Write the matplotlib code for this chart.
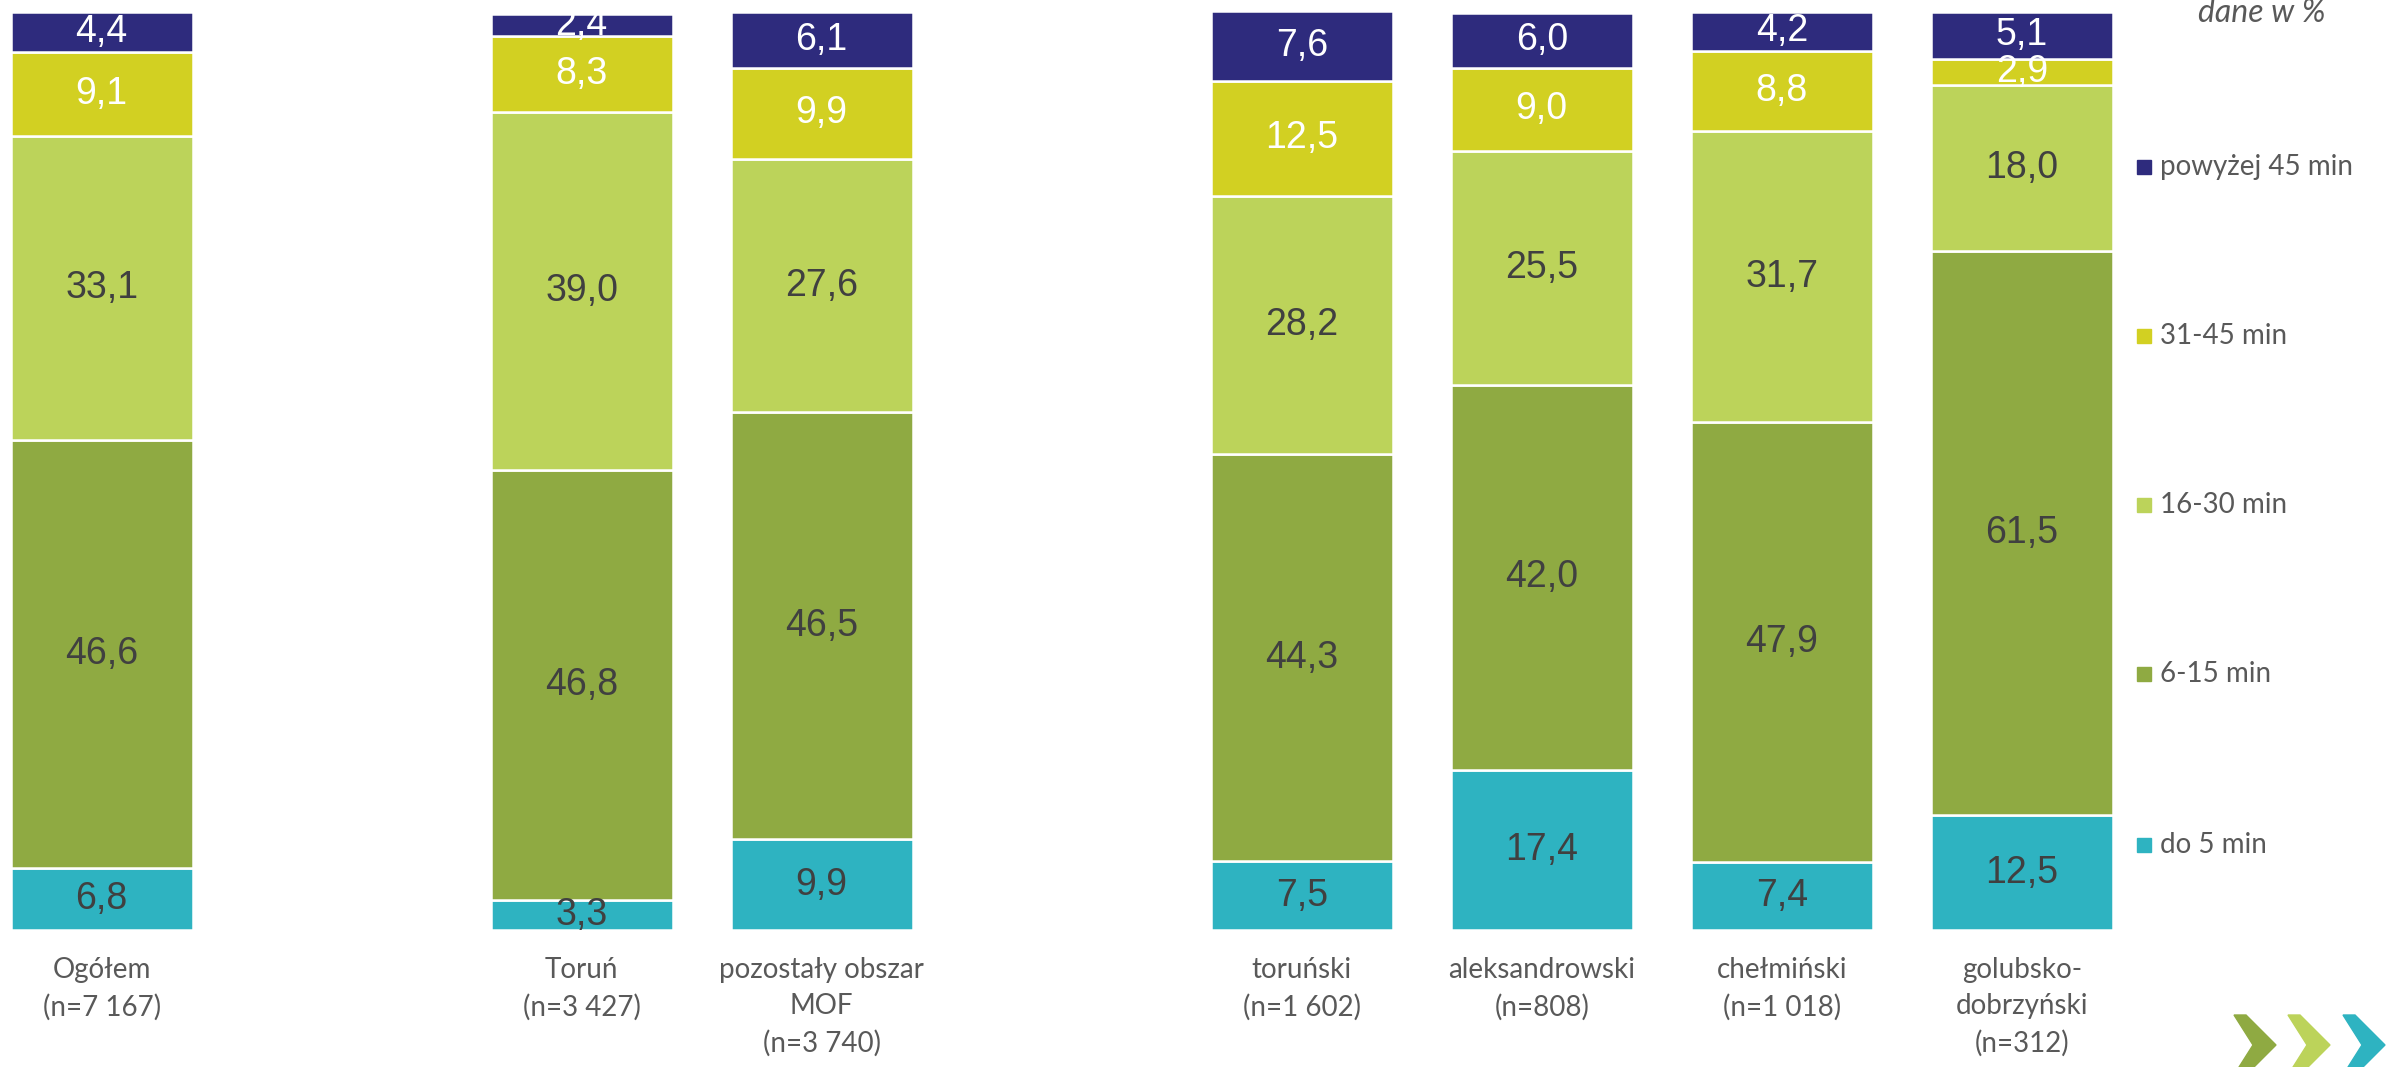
import matplotlib
matplotlib.use("Agg")
import matplotlib.pyplot as plt
import matplotlib.transforms as mtransforms
from matplotlib.patches import Rectangle, Polygon
import numpy as np

# --- data ---
CATEGORIES = [
    "Ogółem\n(n=7 167)",
    "Toruń\n(n=3 427)",
    "pozostały obszar\nMOF\n(n=3 740)",
    "toruński\n(n=1 602)",
    "aleksandrowski\n(n=808)",
    "chełmiński\n(n=1 018)",
    "golubsko-\ndobrzyński\n(n=312)",
]
SERIES = ["do 5 min", "6-15 min", "16-30 min", "31-45 min", "powyżej 45 min"]
DO_5 = [6.8, 3.3, 9.9, 7.5, 17.4, 7.4, 12.5]
MIN_6_15 = [46.6, 46.8, 46.5, 44.3, 42.0, 47.9, 61.5]
MIN_16_30 = [33.1, 39.0, 27.6, 28.2, 25.5, 31.7, 18.0]
MIN_31_45 = [9.1, 8.3, 9.9, 12.5, 9.0, 8.8, 2.9]
OVER_45 = [4.4, 2.4, 6.1, 7.6, 6.0, 4.2, 5.1]

COLORS = ["#2EB3C1", "#8FAA42", "#BCD35A", "#D2D022", "#2E2B7D"]
LABEL_COLORS = ["#404040", "#404040", "#404040", "#FFFFFF", "#FFFFFF"]
POSITIONS = [0, 2, 3, 5, 6, 7, 8]   # empty slots separate the groups
BAR_WIDTH = 0.76
TEXT_GRAY = "#595959"
LABEL_FONT = ["Lato", "DejaVu Sans"]

W, H = 2386, 1067
fig = plt.figure(figsize=(W / 100, H / 100), dpi=100)
ax = fig.add_axes([10.5 / W, 1 - 930 / H, (2113 - 10.5) / W, (930 - 12) / H])

values = [DO_5, MIN_6_15, MIN_16_30, MIN_31_45, OVER_45]
bottom = np.zeros(len(CATEGORIES))
for vals, color, tcol in zip(values, COLORS, LABEL_COLORS):
    vals = np.array(vals)
    ax.bar(POSITIONS, vals, BAR_WIDTH, bottom=bottom, color=color,
           edgecolor="white", linewidth=1.8)
    for x, b, v in zip(POSITIONS, bottom, vals):
        ax.text(x, b + v / 2, f"{v:.1f}".replace(".", ","), ha="center",
                va="center", fontsize=27, color=tcol,
                family=["Liberation Sans", "DejaVu Sans"])
    bottom += vals

ax.set_xlim(-BAR_WIDTH / 2, POSITIONS[-1] + BAR_WIDTH / 2)
ax.set_ylim(0, 100)
ax.axis("off")

# category labels under the bars
trans = mtransforms.blended_transform_factory(ax.transData, ax.transAxes)
for x, lab in zip(POSITIONS, CATEGORIES):
    ax.text(x, -0.029, lab, transform=trans, ha="center", va="top",
            fontsize=20, color=TEXT_GRAY, family=LABEL_FONT,
            linespacing=1.5)

# legend (top to bottom: longest time first)
legend_y = [167, 336, 505, 674, 845]
for name, color, y in zip(SERIES[::-1], COLORS[::-1], legend_y):
    fig.patches.append(Rectangle((2137 / W, 1 - (y + 7) / H), 14 / W, 14 / H,
                                 transform=fig.transFigure, color=color))
    fig.text(2160 / W, 1 - y / H, name, ha="left", va="center", fontsize=20,
             color=TEXT_GRAY, family=LABEL_FONT)

# unit note, partly cut at the top edge as in the source
fig.text(2262 / W, 1 - 22 / H, "dane w %", ha="center", va="baseline",
         fontsize=23, style="italic", color=TEXT_GRAY, family=LABEL_FONT)

# decorative chevrons in the corner
for x0, color in zip([2234, 2288, 2343], ["#8FAA42", "#BCD35A", "#2EB3C1"]):
    pts = [(0, 0), (12, 0), (42, 30), (12, 60), (0, 60), (19, 30)]
    xy = [((x0 + px) / W, 1 - (1015 + py) / H) for px, py in pts]
    fig.patches.append(Polygon(xy, closed=True, transform=fig.transFigure,
                               color=color))

fig.savefig("out.png", dpi=100)
